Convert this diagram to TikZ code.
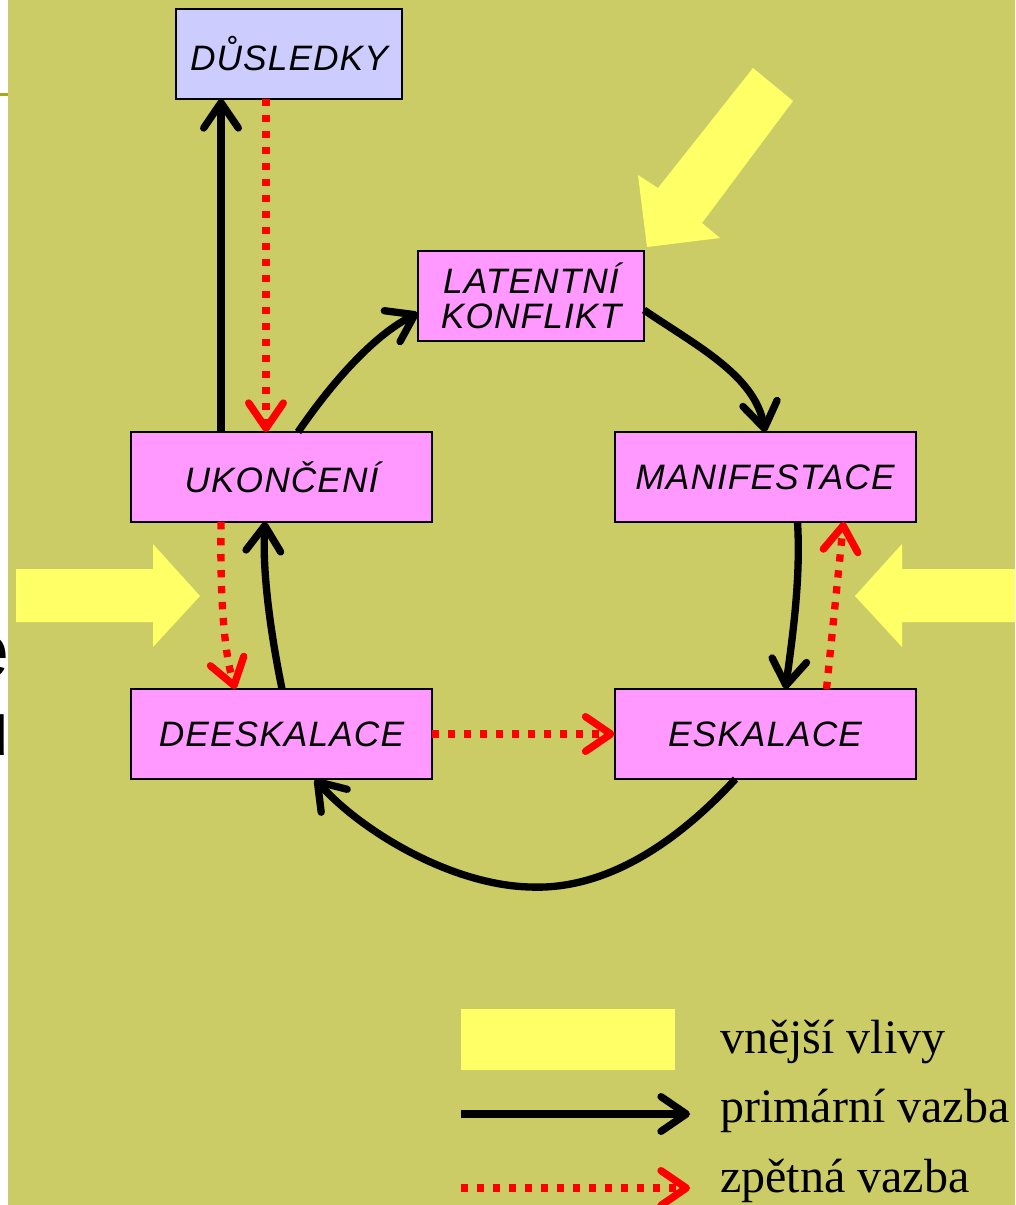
\documentclass[tikz,border=0pt]{standalone}
\usepackage{fontspec}
\setmainfont{Liberation Serif}
\newfontfamily\boxfont{Liberation Sans}[LetterSpace=3]
\usetikzlibrary{arrows.meta,calc}
\definecolor{bg}{HTML}{CCCC66}
\definecolor{boxpink}{HTML}{FF99FF}
\definecolor{boxblue}{HTML}{CCCCFF}
\definecolor{ylw}{HTML}{FFFF66}
\definecolor{fbred}{HTML}{FF0000}
\definecolor{rule}{HTML}{A8A820}
\tikzset{
  stage/.style={draw=black, line width=1.5pt, fill=boxpink, inner sep=0pt, outer sep=0pt,
    minimum width=225.75pt, minimum height=67.5pt, align=center,
    font=\boxfont\itshape\fontsize{26.5}{26.5}\selectfont},
  smallstage/.style={stage, minimum width=169.5pt},
  barbtip/.style={-{Straight Barb[length=19pt,width=26pt,line cap=round,line join=round]}},
  prim/.style={draw=black, line width=5.5pt, barbtip},
  fb/.style={draw=fbred, line width=5.5pt, dash pattern=on 5.5pt off 6.5pt, barbtip},
  legtext/.style={anchor=base west, inner sep=0pt, font=\fontsize{36}{36}\selectfont},
  ext/.style={fill=ylw, draw=none}
}
\begin{document}
\begin{tikzpicture}[x=0.75pt,y=-0.75pt]
\useasboundingbox (0,0) rectangle (1015,1205);
% background
\fill[white] (0,0) rectangle (1015,1205);
\fill[bg] (8,0) rectangle (1015,1205);
\draw[rule, line width=2.25pt] (0,95) -- (8,95);
\begin{scope}
  \clip (0,0) rectangle (8,1205);
  \node[anchor=base east, inner sep=0pt, font=\boxfont\fontsize{58}{58}\selectfont] (cute) at (10,677) {e};
  \node[anchor=base east, inner sep=0pt, font=\boxfont\fontsize{58}{58}\selectfont] (cutu) at (10,755) {u};
\end{scope}
% external influences (yellow arrows)
\fill[ext] (16,569) -- (153,569) -- (153,544) -- (200,596) -- (153,647) -- (153,622) -- (16,622) -- cycle;
\fill[ext] (1015,569) -- (902,569) -- (902,544) -- (855,596) -- (902,647) -- (902,622) -- (1015,622) -- cycle;
\fill[ext] (753,68) -- (793,101) -- (702,223) -- (720,238) -- (647,247) -- (638,175) -- (658,188) -- cycle;
% stages
\node[smallstage, fill=boxblue] (du) at (289,54) {DŮSLEDKY};
\node[smallstage] (la) at (531,296) {LATENTNÍ\\KONFLIKT};
\node[stage] (uk) at (281.5,477) {UKONČENÍ};
\node[stage] (ma) at (765,477) {MANIFESTACE};
\node[stage] (de) at (281.5,734) {DEESKALACE};
\node[stage] (es) at (765,734) {ESKALACE};
% primary links
\draw[prim] ($(uk.north west)+(90,0)$) -- ($(du.south west)+(45,0)$);
\draw[prim] ($(uk.north west)+(167,0)$) .. controls (320,400) and (365,340) .. ($(la.north west)+(0,62)$);
\draw[prim] ($(la.north east)+(0,59)$) .. controls (695,345) and (755,375) .. (ma.north);
\draw[prim] ($(ma.south west)+(183,0)$) .. controls (801,580) and (792,640) .. ($(es.north west)+(171,0)$);
\draw[prim] ($(es.south west)+(121,0)$) .. controls (670,850) and (600,890) .. (530,887)
   .. controls (450,885) and (360,830) .. ($(de.south west)+(184,0)$);
\draw[prim] ($(de.north west)+(151,0)$) .. controls (272,640) and (262,575) .. ($(uk.south west)+(134,0)$);
% feedback links
\draw[fb] ($(du.south west)+(90,0)$) -- ($(uk.north west)+(135,0)$);
\draw[fb] ($(es.north west)+(212,0)$) -- ($(ma.south west)+(229,0)$);
\draw[fb] (de.east) -- (es.west);
\draw[fb] ($(uk.south west)+(90,0)$) .. controls (220,600) and (224,650) .. ($(de.north west)+(104,0)$);
% legend
\node[ext, inner sep=0pt, minimum width=160.5pt, minimum height=45.75pt] (swatch) at (568,1039.5) {};
\coordinate (pa) at (461,1114);
\coordinate (pb) at (690,1114);
\coordinate (fa) at (461,1188);
\coordinate (fbend) at (690,1188);
\draw[prim] (pa) -- (pb);
\draw[fb] (fa) -- (fbend);
\node[legtext] (t1) at (720,1053) {vnější vlivy};
\node[legtext] (t2) at (720,1122) {primární vazba};
\node[legtext] (t3) at (720,1192) {zpětná vazba};
\end{tikzpicture}
\end{document}
